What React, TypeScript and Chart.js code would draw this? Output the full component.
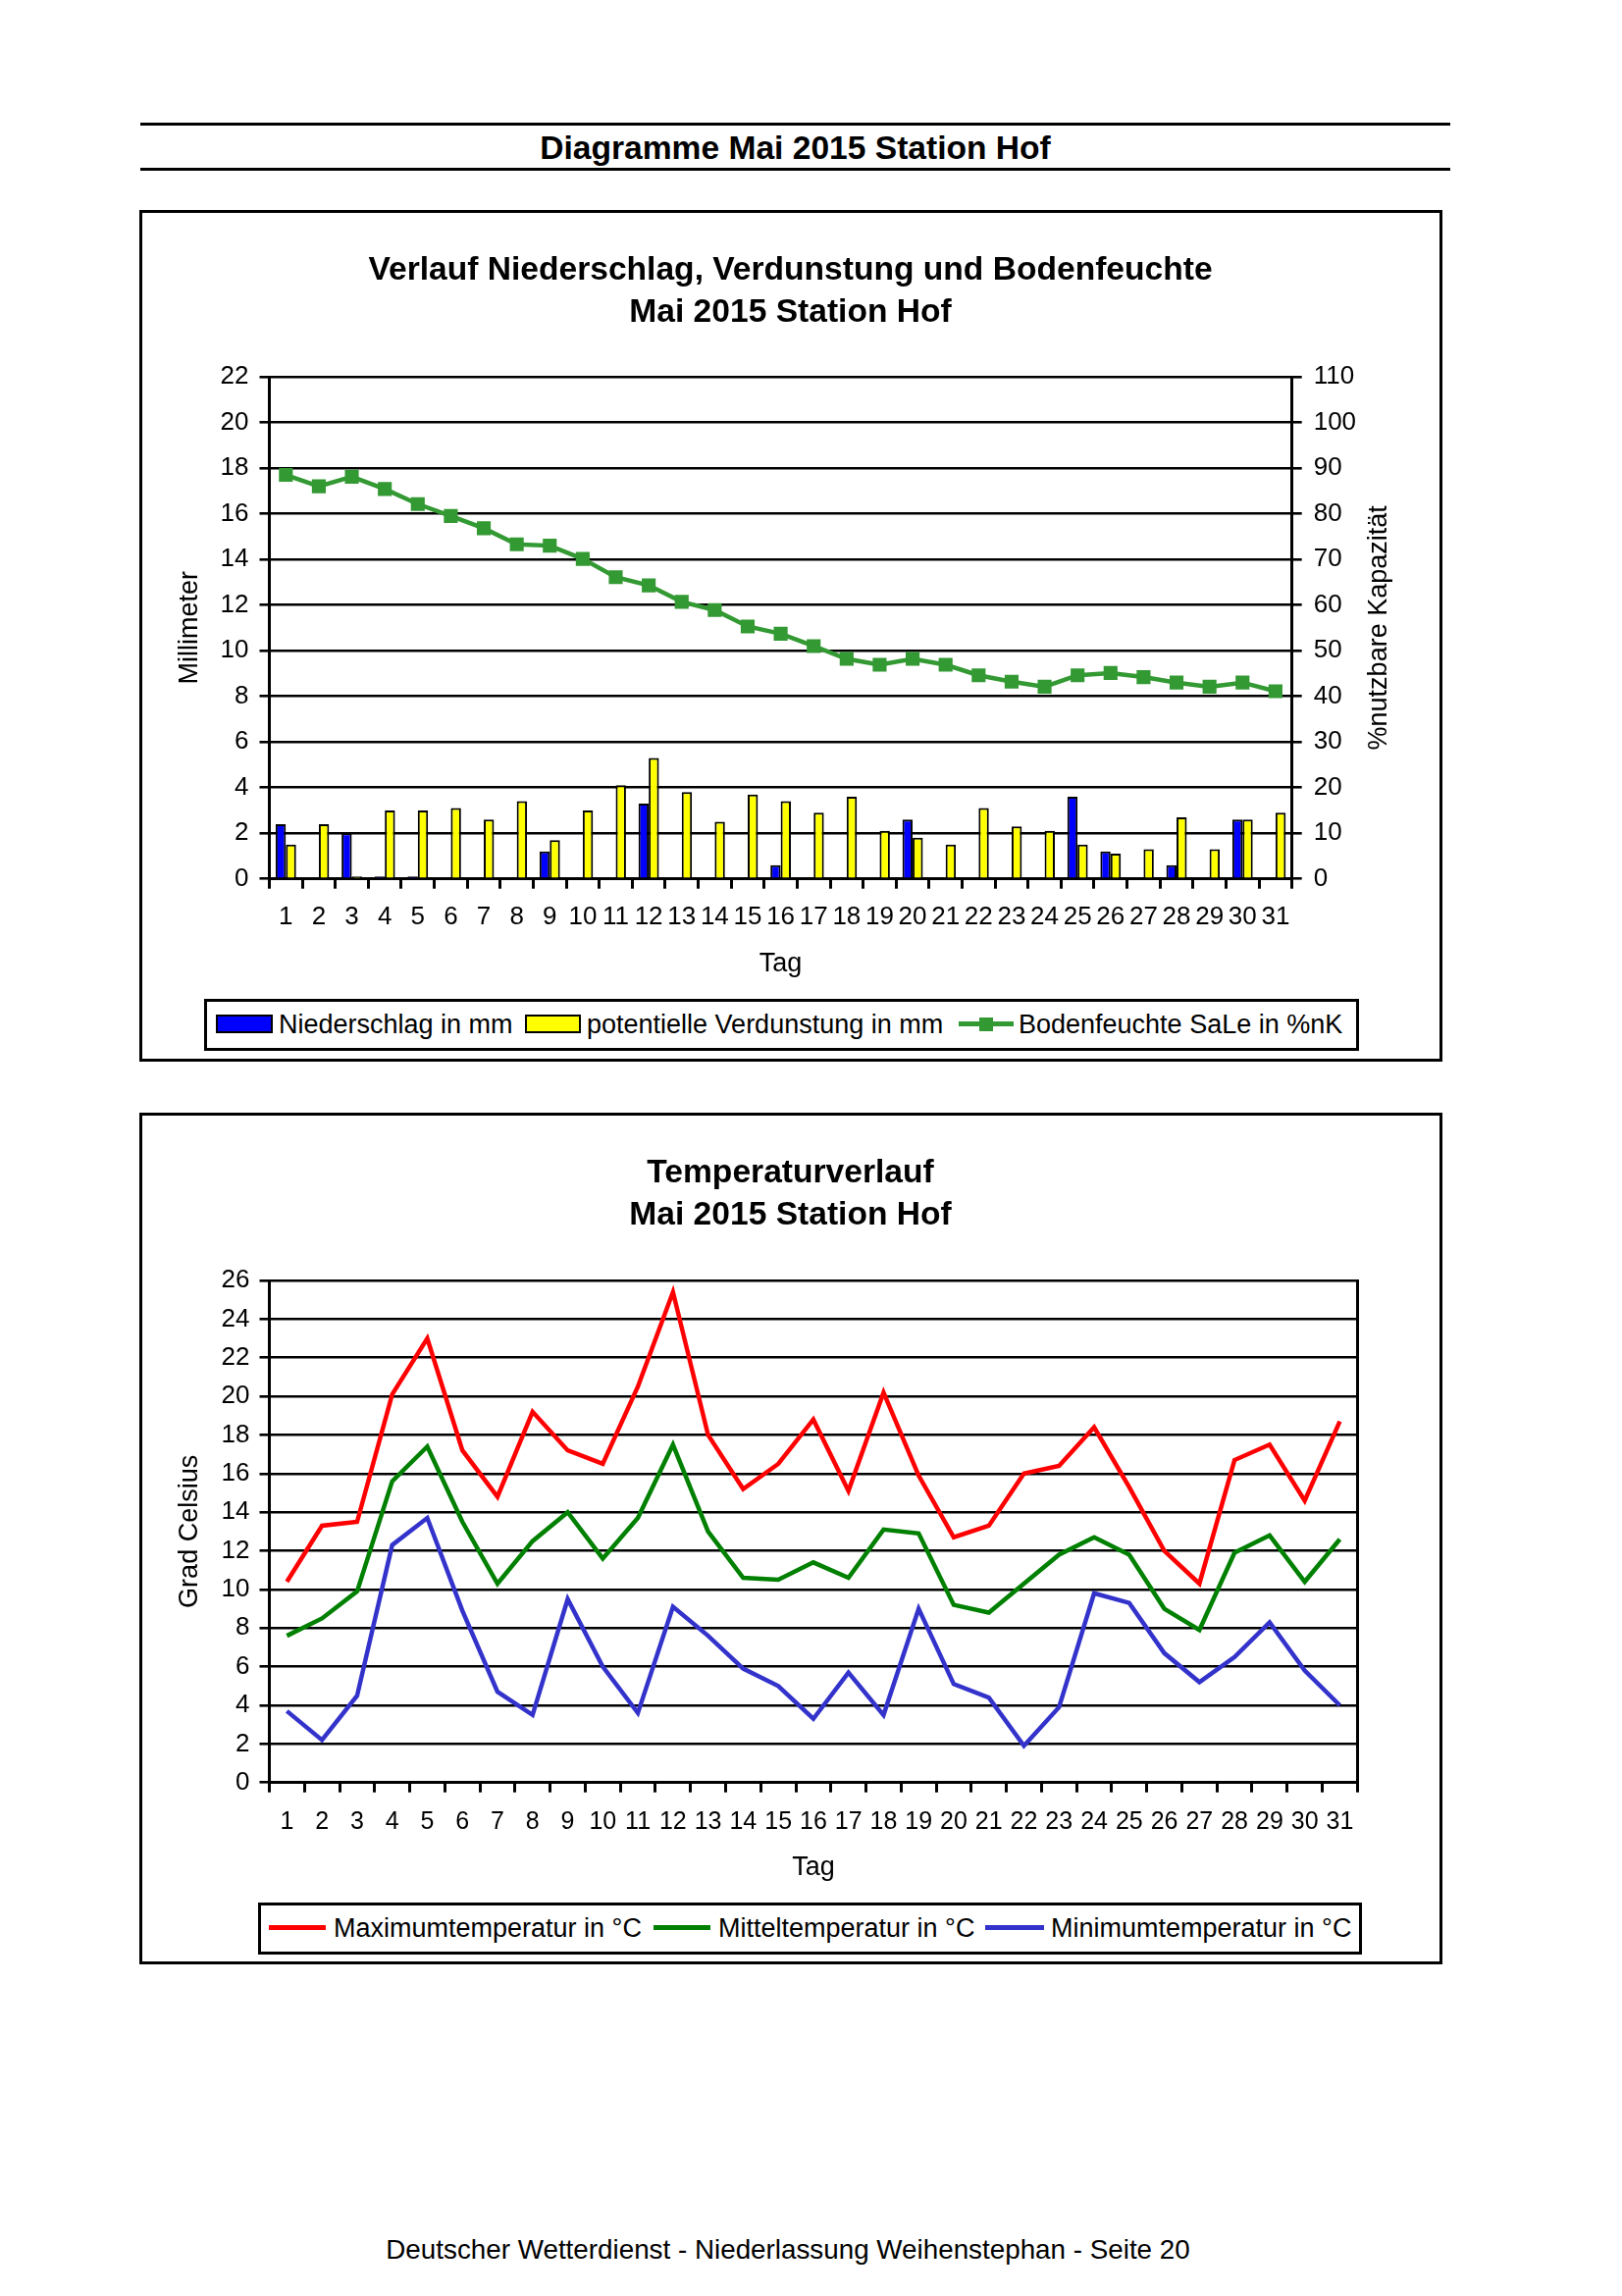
import React, { useEffect, useRef } from 'react';
import { Chart, registerables } from 'chart.js';

Chart.register(...registerables);

const FONT = '"Liberation Sans", Arial, Helvetica, sans-serif';

// ---------- data ----------
const tage = ['1', '2', '3', '4', '5', '6', '7', '8', '9', '10', '11', '12', '13', '14', '15', '16',
  '17', '18', '19', '20', '21', '22', '23', '24', '25', '26', '27', '28', '29', '30', '31'];

const niederschlag = [2.4, 0, 2.0, 0.1, 0.1, 0, 0, 0, 1.2, 0, 0, 3.3, 0, 0, 0, 0.6,
  0, 0, 0, 2.6, 0, 0, 0, 0, 3.6, 1.2, 0, 0.6, 0, 2.6, 0];

const verdunstung = [1.5, 2.4, 0.1, 3.0, 3.0, 3.1, 2.6, 3.4, 1.7, 3.0, 4.1, 5.3, 3.8, 2.5, 3.7, 3.4,
  2.9, 3.6, 2.1, 1.8, 1.5, 3.1, 2.3, 2.1, 1.5, 1.1, 1.3, 2.7, 1.3, 2.6, 2.9];

const bodenfeuchte = [88.5, 86.0, 88.1, 85.4, 82.1, 79.5, 76.8, 73.3, 73.0, 70.1, 66.1, 64.3, 60.7, 58.9, 55.3, 53.7,
  51.0, 48.2, 46.9, 48.2, 46.9, 44.6, 43.2, 42.1, 44.6, 45.1, 44.2, 43.0, 42.1, 43.0, 41.1];

const tmax = [10.4, 13.3, 13.5, 20.1, 23.0, 17.2, 14.8, 19.2, 17.2, 16.5, 20.5, 25.4, 18.0, 15.2, 16.5, 18.8,
  15.1, 20.2, 15.9, 12.7, 13.3, 16.0, 16.4, 18.4, 15.3, 12.0, 10.3, 16.7, 17.5, 14.6, 18.7];

const tmittel = [7.6, 8.5, 9.9, 15.6, 17.4, 13.5, 10.3, 12.5, 14.0, 11.6, 13.7, 17.5, 13.0, 10.6, 10.5, 11.4,
  10.6, 13.1, 12.9, 9.2, 8.8, 10.3, 11.8, 12.7, 11.8, 9.0, 7.9, 11.9, 12.8, 10.4, 12.6];

const tmin = [3.7, 2.2, 4.5, 12.3, 13.7, 8.9, 4.7, 3.5, 9.5, 6.0, 3.6, 9.1, 7.6, 5.9, 5.0, 3.3,
  5.7, 3.5, 9.0, 5.1, 4.4, 1.9, 3.9, 9.8, 9.3, 6.7, 5.2, 6.5, 8.3, 5.8, 4.0];

// axis ranges / tick steps
const mmAxis = { min: 0, max: 22, step: 2 };
const pctAxis = { min: 0, max: 110, step: 10 };
const tempAxis = { min: 0, max: 26, step: 2 };

// texts
const pageTitle = 'Diagramme Mai 2015 Station Hof';
const chart1Title = ['Verlauf Niederschlag, Verdunstung und Bodenfeuchte', 'Mai 2015 Station Hof'];
const chart2Title = ['Temperaturverlauf', 'Mai 2015 Station Hof'];
const footer = 'Deutscher Wetterdienst - Niederlassung Weihenstephan - Seite 20';

// colours
const BLUE = '#0000FF';
const YELLOW = '#FFFF00';
const SOIL = '#339933';
const RED = '#FF0000';
const GREEN = '#008000';
const TBLUE = '#3333CC';

const rightTitlePlugin = {
  id: 'rightTitle',
  afterDraw(chart: any, _args: any, opts: any) {
    if (!opts || !opts.text) return;
    const { ctx, chartArea } = chart;
    ctx.save();
    ctx.translate(opts.x, (chartArea.top + chartArea.bottom) / 2);
    ctx.rotate(-Math.PI / 2);
    ctx.font = `${opts.size}px ${FONT}`;
    ctx.fillStyle = '#000';
    ctx.textAlign = 'center';
    ctx.textBaseline = 'middle';
    ctx.fillText(opts.text, 0, 0);
    ctx.restore();
  },
};

const tickFont = { family: FONT, size: 26 };
const axisTitleFont = { family: FONT, size: 27, lineHeight: 1.2 };
const titleFont = { family: FONT, size: 33.6, weight: 'bold' as const, lineHeight: 43 / 33.6 };

function config1(): any {
  return {
    type: 'bar',
    data: {
      labels: tage,
      datasets: [
        {
          type: 'line',
          label: 'Bodenfeuchte SaLe in %nK',
          data: bodenfeuchte,
          yAxisID: 'y2',
          borderColor: SOIL,
          backgroundColor: SOIL,
          borderWidth: 4.5,
          pointStyle: 'rect',
          pointRadius: 10,
          pointBackgroundColor: SOIL,
          pointBorderColor: SOIL,
          pointBorderWidth: 0,
          tension: 0,
          order: 0,
        },
        {
          type: 'bar',
          label: 'Niederschlag in mm',
          data: niederschlag,
          yAxisID: 'y',
          backgroundColor: BLUE,
          borderColor: '#000',
          borderWidth: 2,
          categoryPercentage: 0.62,
          barPercentage: 1.0,
          order: 1,
        },
        {
          type: 'bar',
          label: 'potentielle Verdunstung in mm',
          data: verdunstung,
          yAxisID: 'y',
          backgroundColor: YELLOW,
          borderColor: '#000',
          borderWidth: 2,
          categoryPercentage: 0.62,
          barPercentage: 1.0,
          order: 1,
        },
      ],
    },
    plugins: [rightTitlePlugin],
    options: {
      responsive: false,
      animation: false,
      layout: { padding: 0 },
      plugins: {
        legend: { display: false },
        tooltip: { enabled: false },
        title: {
          display: true,
          text: chart1Title,
          color: '#000',
          font: titleFont,
          padding: { top: 36, bottom: 44 },
        },
        rightTitle: { text: '%nutzbare Kapazität', x: 1260, size: 27 },
      },
      scales: {
        x: {
          type: 'category',
          offset: true,
          grid: { offset: true, drawOnChartArea: false, color: '#000', lineWidth: 3, tickLength: 10 },
          border: { display: true, color: '#000', width: 3 },
          ticks: { color: '#000', font: tickFont, padding: 13.5, maxRotation: 0, autoSkip: false },
          title: { display: true, text: 'Tag', color: '#000', font: axisTitleFont, padding: { top: 0, bottom: 77.8 } },
          afterFit: (s: any) => { s.height = 181.3; },
        },
        y: {
          position: 'left',
          min: mmAxis.min,
          max: mmAxis.max,
          ticks: { stepSize: mmAxis.step, color: '#000', font: tickFont, padding: 11 },
          grid: { color: '#000', lineWidth: 2.6, tickLength: 10 },
          border: { display: true, color: '#000', width: 3 },
          title: { display: true, text: 'Millimeter', color: '#000', font: axisTitleFont, padding: { top: 31.8, bottom: 0 } },
          afterFit: (s: any) => { s.width = 128.5; },
        },
        y2: {
          position: 'right',
          min: pctAxis.min,
          max: pctAxis.max,
          ticks: { stepSize: pctAxis.step, color: '#000', font: tickFont, padding: 12 },
          grid: { drawOnChartArea: false, color: '#000', lineWidth: 2.6, tickLength: 10 },
          border: { display: true, color: '#000', width: 3 },
          afterFit: (s: any) => { s.width = 148.3; },
        },
      },
    },
  };
}

function config2(): any {
  const line = (label: string, data: number[], color: string) => ({
    label,
    data,
    borderColor: color,
    backgroundColor: color,
    borderWidth: 4.5,
    pointRadius: 0,
    tension: 0,
    fill: false,
  });
  return {
    type: 'line',
    data: {
      labels: tage,
      datasets: [
        line('Maximumtemperatur in °C', tmax, RED),
        line('Mitteltemperatur in °C', tmittel, GREEN),
        line('Minimumtemperatur in °C', tmin, TBLUE),
      ],
    },
    options: {
      responsive: false,
      animation: false,
      layout: { padding: 0 },
      plugins: {
        legend: { display: false },
        tooltip: { enabled: false },
        title: {
          display: true,
          text: chart2Title,
          color: '#000',
          font: titleFont,
          padding: { top: 36.5, bottom: 44.5 },
        },
      },
      scales: {
        x: {
          type: 'category',
          offset: true,
          grid: { offset: true, drawOnChartArea: false, color: '#000', lineWidth: 3, tickLength: 10 },
          border: { display: true, color: '#000', width: 3 },
          ticks: { color: '#000', font: { family: FONT, size: 25 }, padding: 15, maxRotation: 0, autoSkip: false },
          title: { display: true, text: 'Tag', color: '#000', font: axisTitleFont, padding: { top: 0, bottom: 76.8 } },
          afterFit: (s: any) => { s.height = 180.3; },
        },
        y: {
          position: 'left',
          min: tempAxis.min,
          max: tempAxis.max,
          ticks: { stepSize: tempAxis.step, color: '#000', font: tickFont, padding: 10 },
          grid: { color: '#000', lineWidth: 2.6, tickLength: 10 },
          border: { display: true, color: '#000', width: 3 },
          title: { display: true, text: 'Grad Celsius', color: '#000', font: axisTitleFont, padding: { top: 31.8, bottom: 0 } },
          afterFit: (s: any) => { s.width = 128.5; },
        },
        yr: {
          position: 'right',
          min: tempAxis.min,
          max: tempAxis.max,
          ticks: { display: false },
          grid: { display: false },
          border: { display: true, color: '#000', width: 3 },
          afterFit: (s: any) => { s.width = 81.7; },
        },
      },
    },
  };
}

function ChartCanvas({ make, left, top, width, height }: { make: () => any; left: number; top: number; width: number; height: number }) {
  const ref = useRef<HTMLCanvasElement>(null);
  useEffect(() => {
    const chart = new Chart(ref.current as HTMLCanvasElement, make());
    return () => chart.destroy();
  }, []);
  return (
    <canvas
      ref={ref}
      width={width}
      height={height}
      style={{ position: 'absolute', left, top, width, height }}
    />
  );
}

const abs = (o: React.CSSProperties): React.CSSProperties => ({ position: 'absolute', ...o });

function LegendText({ left, cy, children }: { left: number; cy: number; children: React.ReactNode }) {
  return (
    <div style={abs({ left, top: cy - 16, height: 32, lineHeight: '32px', fontSize: 27, whiteSpace: 'nowrap', color: '#000' })}>
      {children}
    </div>
  );
}

export default function App() {
  const l1y = 1043.5;
  const l2y = 1964.5;
  return (
    <div style={abs({ left: 0, top: 0, width: 1653, height: 2340, background: '#fff', fontFamily: FONT, color: '#000' })}>
      {/* page header rules and title */}
      <div style={abs({ left: 143, top: 124.5, width: 1335, height: 3, background: '#000' })} />
      <div style={abs({ left: 143, top: 131, width: 1335, height: 40, lineHeight: '40px', textAlign: 'center', fontSize: 33.6, fontWeight: 'bold' })}>
        {pageTitle}
      </div>
      <div style={abs({ left: 143, top: 171.2, width: 1335, height: 3, background: '#000' })} />

      {/* chart 1 */}
      <div style={abs({ left: 141.5, top: 213.5, width: 1328, height: 868, border: '3px solid #000', boxSizing: 'border-box' })} />
      <ChartCanvas make={config1} left={146} top={218} width={1319} height={859} />
      <div style={abs({ left: 207.5, top: 1017.5, width: 1177, height: 53.5, border: '3px solid #000', boxSizing: 'border-box', background: '#fff' })} />
      <div style={abs({ left: 219.5, top: l1y - 9.5, width: 58, height: 19, background: BLUE, border: '2px solid #000', boxSizing: 'border-box' })} />
      <LegendText left={284} cy={l1y}>Niederschlag in mm</LegendText>
      <div style={abs({ left: 534.6, top: l1y - 9.5, width: 57, height: 19, background: YELLOW, border: '2px solid #000', boxSizing: 'border-box' })} />
      <LegendText left={598} cy={l1y}>potentielle Verdunstung in mm</LegendText>
      <div style={abs({ left: 976.7, top: l1y - 2.25, width: 56, height: 4.5, background: SOIL })} />
      <div style={abs({ left: 1004.7 - 7, top: l1y - 7, width: 14, height: 14, background: SOIL })} />
      <LegendText left={1038} cy={l1y}>Bodenfeuchte SaLe in %nK</LegendText>

      {/* chart 2 */}
      <div style={abs({ left: 141.5, top: 1133.5, width: 1328, height: 868, border: '3px solid #000', boxSizing: 'border-box' })} />
      <ChartCanvas make={config2} left={146} top={1138} width={1319} height={859} />
      <div style={abs({ left: 263.3, top: 1938.5, width: 1125, height: 53.7, border: '3px solid #000', boxSizing: 'border-box', background: '#fff' })} />
      <div style={abs({ left: 273.7, top: l2y - 2.25, width: 58, height: 4.5, background: RED })} />
      <LegendText left={340} cy={l2y}>Maximumtemperatur in °C</LegendText>
      <div style={abs({ left: 666, top: l2y - 2.25, width: 58, height: 4.5, background: GREEN })} />
      <LegendText left={732} cy={l2y}>Mitteltemperatur in °C</LegendText>
      <div style={abs({ left: 1004, top: l2y - 2.25, width: 60, height: 4.5, background: TBLUE })} />
      <LegendText left={1071} cy={l2y}>Minimumtemperatur in °C</LegendText>

      {/* footer */}
      <div style={abs({ left: 143, top: 2277, width: 1320, height: 32, lineHeight: '32px', textAlign: 'center', fontSize: 27.8 })}>
        {footer}
      </div>
    </div>
  );
}
